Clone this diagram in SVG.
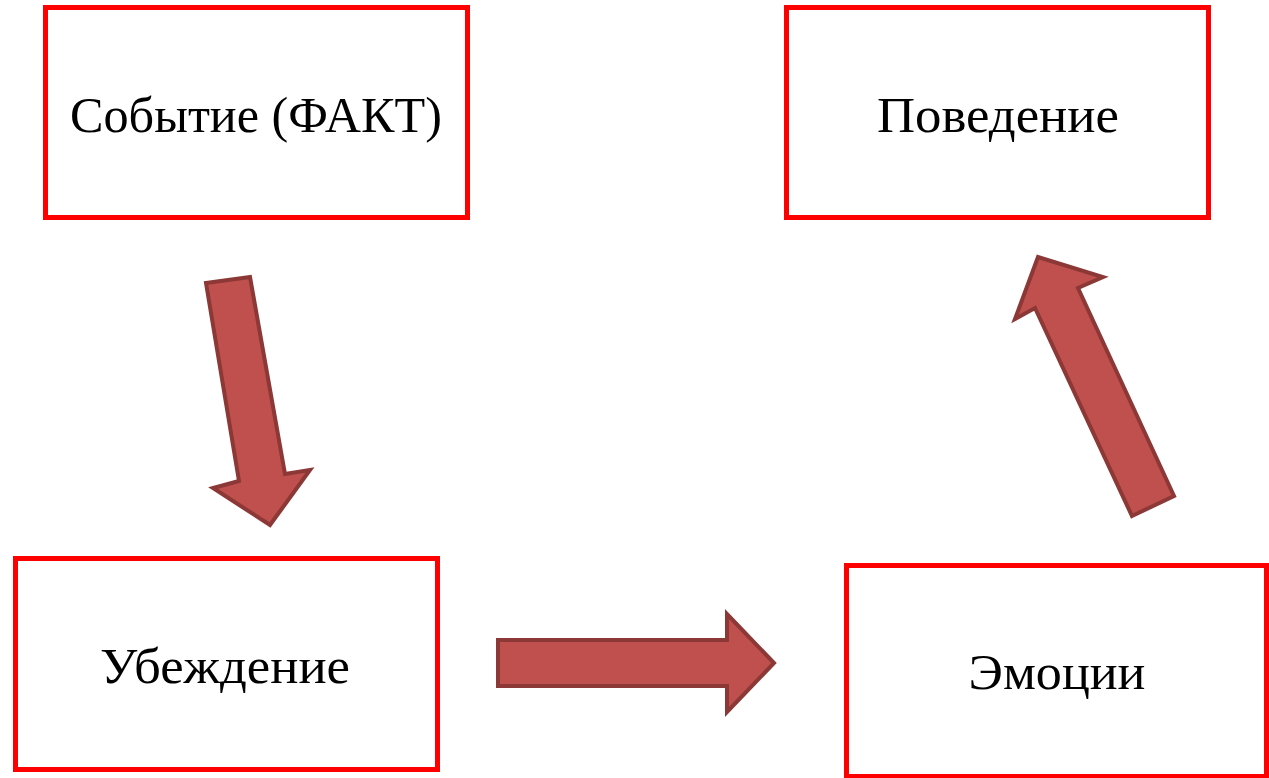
<svg xmlns="http://www.w3.org/2000/svg" width="1269" height="778" viewBox="0 0 1269 778">
<style>
.box{fill:#fff;stroke:#ff0000;stroke-width:5;}
.lbl{font-family:"Liberation Serif","Times New Roman",serif;font-size:51px;fill:#000;text-anchor:middle;}
.arr{fill:#c0504d;stroke:#8c3836;stroke-width:4;stroke-linejoin:miter;}
</style>
<rect width="1269" height="778" fill="#fff"/>
<g id="connectors">
<polygon class="arr" points="206,283 250,277 285,474 310,470 270,525 213,488 239,481"/>
<polygon class="arr" points="498,640 727,640 727,614 774,663 727,712 727,686 498,686"/>
<polygon class="arr" points="1132,516 1174,496 1078,288 1103,277 1038,257 1015,319 1035,308"/>
</g>
<g id="node-fact">
<rect class="box" x="45.5" y="7.5" width="422" height="210"/>
<text class="lbl" x="256" y="132" textLength="372" lengthAdjust="spacingAndGlyphs">Событие (ФАКТ)</text>
</g>
<g id="node-behavior">
<rect class="box" x="786.5" y="7.5" width="422" height="210"/>
<text class="lbl" x="998" y="132" textLength="242" lengthAdjust="spacingAndGlyphs">Поведение</text>
</g>
<g id="node-belief">
<rect class="box" x="15.5" y="558.5" width="422" height="211"/>
<text class="lbl" x="225" y="683" textLength="250" lengthAdjust="spacingAndGlyphs">Убеждение</text>
</g>
<g id="node-emotions">
<rect class="box" x="846.5" y="565.5" width="420" height="211"/>
<text class="lbl" x="1057" y="689" textLength="177" lengthAdjust="spacingAndGlyphs">Эмоции</text>
</g>
</svg>
